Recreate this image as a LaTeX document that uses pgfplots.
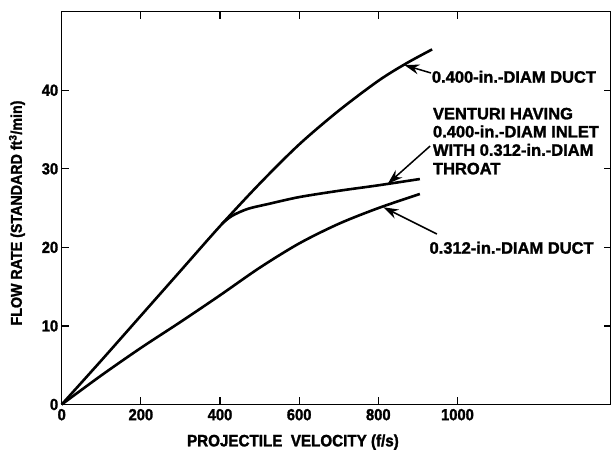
\documentclass[border=0pt]{standalone}
\usepackage{fontspec}
\setmainfont{Liberation Sans}
\newfontfamily\heavy{Liberation Sans}[BoldFeatures={FakeBold=1.6}]
\newfontfamily\heavycond{Liberation Sans}[FakeStretch=0.92, BoldFeatures={FakeBold=1.6}]
\usepackage{pgfplots}
\pgfplotsset{compat=1.18}
\usetikzlibrary{arrows.meta}

\pgfplotstableread{
x y
0 0
100 5.6
200 11.3
300 17.0
400 22.7
500 28.1
600 33.1
700 37.4
800 41.2
870 43.4
936 45.2
}\dataUpper

\pgfplotstableread{
x y
405 23.0
430 24.0
470 24.9
520 25.5
600 26.4
700 27.2
800 27.9
905 28.7
}\dataVenturi

\pgfplotstableread{
x y
0 0
100 3.7
200 7.2
300 10.5
400 13.9
500 17.4
600 20.5
700 23.0
800 25.0
905 26.8
}\dataLower

\begin{document}
\begin{tikzpicture}
\begin{axis}[
  scale only axis, width=549.3pt, height=392.8pt,
  xmin=0, xmax=1388, ymin=0, ymax=50,
  xtick={0,200,400,600,800,1000}, ytick={0,10,20,30,40},
  xticklabels={0,200,400,600,800,1000},
  yticklabels={0,10,20,30,40},
  tick align=inside, major tick length=7pt,
  every tick/.style={black, line width=1.3pt},
  axis line style={line width=1.6pt},
  tick label style={font=\heavycond\bfseries\fontsize{16}{18}\selectfont},
  xticklabel style={yshift=-1pt},
  /pgf/number format/assume math mode=true,
  xlabel={PROJECTILE\ \ VELOCITY (f/s)},
  ylabel={FLOW RATE (STANDARD ft\textsuperscript{3}/min)},
  xlabel style={at={(axis description cs:0.421,-0.0957)}, anchor=center, font=\heavycond\bfseries\fontsize{16.5}{18}\selectfont},
  ylabel style={at={(axis description cs:-0.0814,0.4875)}, anchor=center, font=\heavycond\bfseries\fontsize{15.5}{18}\selectfont},
  clip=false,
]
\addplot[black, line width=2.6pt, smooth, tension=0.5] table {\dataUpper};
\addplot[black, line width=2.6pt, smooth, tension=0.5] table {\dataVenturi};
\addplot[black, line width=2.6pt, smooth, tension=0.5] table {\dataLower};

\begin{scope}[every node/.style={anchor=base west, inner sep=0pt, font=\heavy\bfseries\fontsize{16.5}{18.5}\selectfont}]
\node at (axis cs:935,40.96) {0.400-in.-DIAM DUCT};
\node at (axis cs:937.7,36.3) {VENTURI HAVING};
\node at (axis cs:937.7,34.0) {0.400-in.-DIAM INLET};
\node at (axis cs:937.7,31.66) {WITH 0.312-in.-DIAM};
\node at (axis cs:937.7,29.3) {THROAT};
\node at (axis cs:929,19.2) {0.312-in.-DIAM DUCT};
\end{scope}
\draw[line width=1.5pt, -{Stealth[length=15pt,width=10pt,inset=5pt]}] (axis cs:933,42.2) -- (axis cs:866,43.2);
\draw[line width=1.5pt, -{Stealth[length=15pt,width=10pt,inset=5pt]}] (axis cs:931,32.9) -- (axis cs:824,28.1);
\draw[line width=1.5pt, -{Stealth[length=15pt,width=10pt,inset=5pt]}] (axis cs:948,21.7) -- (axis cs:813,25.1);
\end{axis}
\pgfresetboundingbox
\path (-61.7pt,-47.5pt) rectangle (549.3pt,404.5pt);
\end{tikzpicture}
\end{document}
